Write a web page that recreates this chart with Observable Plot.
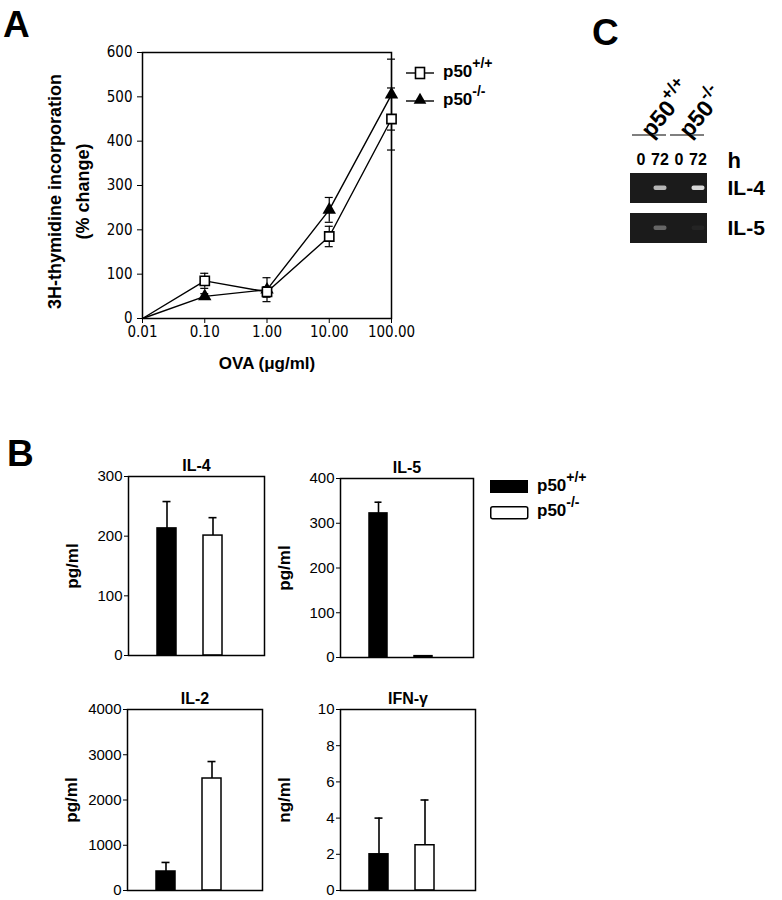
<!DOCTYPE html>
<html><head><meta charset="utf-8">
<script src="https://cdn.jsdelivr.net/npm/d3@7"></script>
<script src="https://cdn.jsdelivr.net/npm/@observablehq/plot@0.6"></script>
<style>
body{margin:0;background:#fff;}
#fig{position:relative;width:782px;height:900px;overflow:hidden;font-family:"Liberation Sans",Arial,sans-serif;}
.plabel{position:absolute;font-weight:bold;font-size:37px;line-height:1;font-family:"Liberation Sans",Arial,sans-serif;}
</style></head><body><div id="fig"></div>
<script>
// ---------- Panel A data ----------
const doses = [0.01, 0.1, 1, 10, 100];
const wtMean = [0, 85, 60, 185, 450];
const wtErr = [0, 17, 12, 23, 70];
const koMean = [0, 50, 65, 245, 505];
const koErr = [0, 6, 27, 28, 80];
const yTicksA = [0, 100, 200, 300, 400, 500, 600];
const genotypes = ["p50+/+", "p50-/-"];

// ---------- Panel B data ----------
const cytokines = ["IL-4", "IL-5", "IL-2", "IFN-γ"];
const units = ["pg/ml", "pg/ml", "pg/ml", "ng/ml"];
const wtValues = [213, 322, 420, 2];
const wtSD = [45, 25, 200, 2];
const koValues = [201, 3, 2475, 2.5];
const koSD = [30, 0, 375, 2.5];
const yMaxB = [300, 400, 4000, 10];
const yTicksB = [[0,100,200,300],[0,100,200,300,400],[0,1000,2000,3000,4000],[0,2,4,6,8,10]];

// ---------- Panel C data ----------
const laneLabels = ["0", "72", "0", "72"];
const laneIds = ["wt0", "wt72", "ko0", "ko72"];
const genes = ["IL-4", "IL-5"];
const bandIntensity = [[0, 0.72, 0, 0.88], [0, 0.35, 0, 0.04]];

const sans = '"Liberation Sans", Arial, Helvetica, sans-serif';
const narrow = '"Liberation Sans Narrow", "Arial Narrow", "DejaVu Sans Condensed", sans-serif';
const fig = document.getElementById("fig");
function place(el, left, top) { el.style.position = "absolute"; el.style.left = left + "px"; el.style.top = top + "px"; fig.appendChild(el); return el; }

// ---------- Panel A ----------
const rowsA = doses.flatMap((d, i) => [
  {dose: d, g: genotypes[0], v: wtMean[i], e: wtErr[i]},
  {dose: d, g: genotypes[1], v: koMean[i], e: koErr[i]}
]);
const errA = rowsA.filter(d => d.e > 0);
const ptsA = rowsA.filter(d => d.dose > doses[0]);
const plotA = Plot.plot({
  width: 420, height: 380,
  marginLeft: 142, marginRight: 29, marginTop: 52, marginBottom: 62,
  style: {fontFamily: narrow, fontSize: "15px", color: "#000", background: "transparent"},
  x: {type: "log", domain: [0.01, 100], ticks: doses, tickFormat: d3.format(".2f"), tickSize: 5, tickPadding: 3, label: null},
  y: {domain: [0, 600], ticks: yTicksA, tickSize: 5, tickPadding: 5, label: null},
  marks: [
    Plot.frame({strokeWidth: 1.5}),
    Plot.ruleX(errA, {x: "dose", y1: d => d.v - d.e, y2: d => d.v + d.e, strokeWidth: 1.2}),
    Plot.ruleY(errA, {y: d => d.v + d.e, x1: "dose", x2: "dose", insetLeft: -4, insetRight: -4, strokeWidth: 1.2}),
    Plot.ruleY(errA, {y: d => d.v - d.e, x1: "dose", x2: "dose", insetLeft: -4, insetRight: -4, strokeWidth: 1.2}),
    Plot.line(rowsA, {x: "dose", y: "v", z: "g", strokeWidth: 1.4}),
    Plot.dot(ptsA.filter(d => d.g === genotypes[1]), {x: "dose", y: "v", symbol: "triangle", r: 5, fill: "black"}),
    Plot.dot(ptsA.filter(d => d.g === genotypes[0]), {x: "dose", y: "v", symbol: "square", r: 5.2, fill: "white", stroke: "black", strokeWidth: 1.6}),
    Plot.text(["3H-thymidine incorporation"], {text: d => d, frameAnchor: "left", textAnchor: "middle", rotate: -90, dx: -87, dy: 6, fontWeight: "bold", fontSize: 18, fontFamily: sans}),
    Plot.text(["(% change)"], {text: d => d, frameAnchor: "left", textAnchor: "middle", rotate: -90, dx: -59, dy: 6, fontWeight: "bold", fontSize: 18, fontFamily: sans}),
    Plot.text(["OVA (μg/ml)"], {text: d => d, frameAnchor: "bottom", dy: 50, fontWeight: "bold", fontSize: 17, fontFamily: sans})
  ]
});
place(plotA, 0, 0);

// Legend A
const legA = document.createElementNS("http://www.w3.org/2000/svg", "svg");
legA.setAttribute("width", 130); legA.setAttribute("height", 70);
legA.innerHTML = `
 <g font-family='${sans}' font-weight="bold" font-size="17">
 <line x1="6" x2="34" y1="23" y2="23" stroke="black" stroke-width="1.4"/>
 <rect x="15.5" y="17.5" width="9" height="11" fill="white" stroke="black" stroke-width="1.6"/>
 <text x="43" y="27">p50<tspan dy="-9" font-size="14">+/+</tspan></text>
 <line x1="6" x2="34" y1="51" y2="51" stroke="black" stroke-width="1.4"/>
 <path d="${d3.symbol(d3.symbolTriangle, 70)()}" transform="translate(20,50)" fill="black"/>
 <text x="43" y="55">p50<tspan dy="-9" font-size="14">-/-</tspan></text>
 </g>`;
place(legA, 400, 50);

// ---------- Panel B ----------
function barPanel(i, left, top, width, height, ml, mr, mt, mb) {
  const rows = [
    {g: genotypes[0], v: wtValues[i], e: wtSD[i]},
    {g: genotypes[1], v: koValues[i], e: koSD[i]}
  ];
  const err = rows.filter(d => d.e > 0);
  const p = Plot.plot({
    width, height, marginLeft: ml, marginRight: mr, marginTop: mt, marginBottom: mb,
    style: {fontFamily: sans, fontSize: "15px", color: "#000", background: "transparent"},
    x: {domain: genotypes, axis: null, paddingInner: 0.59, paddingOuter: 0.76, align: 0.41},
    y: {domain: [0, yMaxB[i]], ticks: yTicksB[i], tickFormat: d3.format("d"), tickSize: 4, tickPadding: 2, label: null},
    marks: [
      Plot.ruleX(err, {x: "g", y1: "v", y2: d => d.v + d.e, strokeWidth: 1.6}),
      Plot.tickY(err, {x: "g", y: d => d.v + d.e, insetLeft: 5.5, insetRight: 5.5, strokeWidth: 1.6}),
      Plot.barY(rows.filter(d => d.g === genotypes[0]), {x: "g", y: "v", fill: "black", stroke: "black", strokeWidth: 1.5}),
      Plot.barY(rows.filter(d => d.g === genotypes[1]), {x: "g", y: "v", fill: "white", stroke: "black", strokeWidth: 1.5}),
      Plot.frame({strokeWidth: 1.5}),
      Plot.text([cytokines[i]], {text: d => d, frameAnchor: "top", dy: -6, lineAnchor: "bottom", fontWeight: "bold", fontSize: 16}),
      Plot.text([units[i]], {text: d => d, frameAnchor: "left", textAnchor: "middle", rotate: -90, dx: -56, fontWeight: "bold", fontSize: 17})
    ]
  });
  place(p, left, top);
}
barPanel(0, 0, 440, 280, 230, 128, 16, 36, 15);
barPanel(1, 220, 440, 270, 230, 120, 17, 38, 13);
barPanel(2, 0, 670, 280, 230, 127, 18, 39, 10);
barPanel(3, 220, 670, 270, 230, 120, 15, 39, 10);

// Legend B
const legB = document.createElementNS("http://www.w3.org/2000/svg", "svg");
legB.setAttribute("width", 130); legB.setAttribute("height", 60);
legB.innerHTML = `
 <g font-family='${sans}' font-weight="bold" font-size="17">
 <rect x="5" y="10" width="38" height="13" fill="black"/>
 <text x="52" y="21">p50<tspan dy="-9" font-size="14">+/+</tspan></text>
 <rect x="5.75" y="36.75" width="37" height="12" rx="2" fill="white" stroke="black" stroke-width="1.5"/>
 <text x="52" y="46">p50<tspan dy="-9" font-size="14">-/-</tspan></text>
 </g>`;
place(legB, 485, 470);

// ---------- Panel C ----------
const gelRows = genes.flatMap((g, gi) => laneIds.map((l, li) => ({gene: g, lane: l, I: bandIntensity[gi][li]})));
const gelBg = "#1b1b1b";
const bandColor = d3.interpolateRgb(gelBg, "#f2f2f2");
const plotC = Plot.plot({
  width: 222, height: 260,
  marginLeft: 70, marginRight: 75, marginTop: 172, marginBottom: 16,
  style: {fontFamily: sans, fontSize: "21px", fontWeight: "bold", color: "#000", background: "transparent"},
  color: {type: "identity"},
  x: {domain: laneIds, axis: null, padding: 0},
  y: {domain: genes, axis: "right", tickSize: 0, tickPadding: 20, paddingInner: 0.24, paddingOuter: 0, label: null},
  marks: [
    Plot.cell(genes, {y: d => d, fill: gelBg}),
    Plot.cell(gelRows.filter(d => d.I > 0), {x: "lane", y: "gene", fill: d => bandColor(d.I), insetLeft: 3.5, insetRight: 2.5, insetTop: 12.5, insetBottom: 13, rx: 2}),
    Plot.text(laneIds, {x: d => d, text: (d, i) => laneLabels[i], frameAnchor: "top", dy: -19, fontSize: 16}),
    Plot.text(["h"], {text: d => d, frameAnchor: "top-right", textAnchor: "start", dx: 20, dy: -20, fontSize: 22}),
    Plot.text([laneIds[0], laneIds[2]], {x: d => d, text: () => "p50", frameAnchor: "top", textAnchor: "start", dx: -2, dy: -44, rotate: -50, fontSize: 23}),
    Plot.text([laneIds[0], laneIds[2]], {x: d => d, text: (d, i) => genotypes[i].slice(3), frameAnchor: "top", textAnchor: "start", dx: 18, dy: -79, rotate: -50, fontSize: 17})
  ]
});
// underlines spanning each genotype's lanes, from the plot's own x scale
(function () {
  const sx = plotC.scale("x");
  const bw = sx.bandwidth;
  for (let k = 0; k < 2; k++) {
    const a = sx.apply(laneIds[2 * k]) + 1, b = sx.apply(laneIds[2 * k + 1]) + bw - 3;
    const ln = document.createElementNS("http://www.w3.org/2000/svg", "line");
    ln.setAttribute("x1", a); ln.setAttribute("x2", b);
    ln.setAttribute("y1", 135); ln.setAttribute("y2", 135);
    ln.setAttribute("stroke", "black"); ln.setAttribute("stroke-width", 1.2);
    plotC.appendChild(ln);
  }
})();
place(plotC, 560, 0);

// Panel letters
[["A", 3, 6], ["B", 7, 435], ["C", 592, 14]].forEach(([t, x, y]) => {
  const d = document.createElement("div");
  d.className = "plabel"; d.textContent = t;
  d.style.left = x + "px"; d.style.top = y + "px";
  fig.appendChild(d);
});
</script></body></html>
